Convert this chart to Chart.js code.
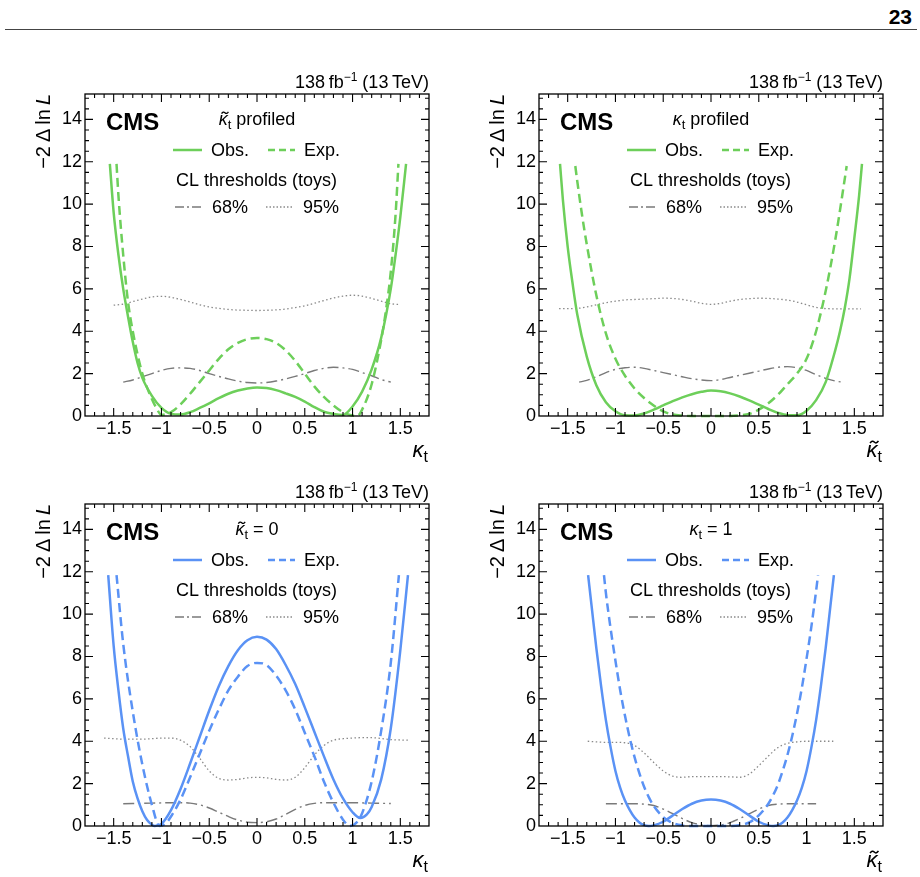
<!DOCTYPE html>
<html>
<head>
<meta charset="utf-8">
<script src="https://cdn.jsdelivr.net/npm/chart.js@4.4.1/dist/chart.umd.min.js"></script>
<style>
  html, body { margin: 0; padding: 0; background: #fff; }
  #page { position: relative; width: 920px; height: 877px; overflow: hidden; font-family: 'Liberation Sans', Arial, sans-serif; }
  #pagenum { position: absolute; right: 8px; top: 5px; font-weight: bold; font-size: 21px; font-family: 'Liberation Sans Narrow', 'Liberation Sans', Arial, sans-serif; }
  #rule { position: absolute; left: 5px; width: 912px; top: 29px; border-top: 1.5px solid #444; }
  canvas { position: absolute; }
</style>
</head>
<body>
<div id="page">
  <div id="pagenum">23</div>
  <div id="rule"></div>
  <canvas id="c1" width="460" height="420" style="left:0;top:50px"></canvas>
  <canvas id="c2" width="460" height="420" style="left:454px;top:50px"></canvas>
  <canvas id="c3" width="460" height="420" style="left:0;top:460px"></canvas>
  <canvas id="c4" width="460" height="420" style="left:454px;top:460px"></canvas>
</div>
<script>
const FONT = "'Liberation Sans', Arial, Helvetica, sans-serif";

const xTickValues = [-1.5, -1, -0.5, 0, 0.5, 1, 1.5];
const yTickValues = [0, 2, 4, 6, 8, 10, 12, 14];

// top left: kappa_t scan, kappa~_t profiled
const aObsX = [-1.54,-1.5,-1.45,-1.4,-1.35,-1.3,-1.25,-1.2,-1.1,-1.0,-0.9,-0.8,-0.7,-0.6,-0.5,-0.4,-0.3,-0.2,-0.1,0,0.1,0.2,0.3,0.4,0.5,0.6,0.7,0.8,0.9,1.0,1.1,1.2,1.3,1.4,1.45,1.5,1.56];
const aObsY = [11.9,9.6,7.6,6.0,4.7,3.5,2.5,1.8,0.95,0.38,0.1,0.07,0.18,0.38,0.6,0.84,1.05,1.2,1.3,1.35,1.32,1.22,1.07,0.9,0.68,0.42,0.2,0.1,0.05,0.45,1.15,2.2,3.7,6.0,7.6,9.4,11.9];
const aExpX = [-1.47,-1.45,-1.4,-1.35,-1.3,-1.2,-1.1,-1.05,-1.0,-0.9,-0.8,-0.7,-0.6,-0.5,-0.4,-0.3,-0.2,-0.1,0,0.1,0.2,0.3,0.4,0.5,0.6,0.7,0.8,0.9,1.0,1.05,1.1,1.2,1.3,1.35,1.4,1.45,1.48];
const aExpY = [11.9,10.4,7.6,5.4,4.0,2.0,0.8,0.35,0.05,0.18,0.55,1.05,1.6,2.15,2.7,3.15,3.45,3.63,3.68,3.63,3.45,3.1,2.6,2.0,1.4,0.9,0.5,0.18,0.02,0.0,0.3,1.5,3.6,5.0,6.8,9.5,11.9];
const a68X = [-1.4,-1.3,-1.2,-1.1,-1.0,-0.9,-0.8,-0.7,-0.6,-0.5,-0.4,-0.3,-0.2,-0.1,0,0.1,0.2,0.3,0.4,0.5,0.6,0.7,0.8,0.9,1.0,1.1,1.2,1.3,1.4];
const a68Y = [1.6,1.7,1.85,2.0,2.15,2.25,2.27,2.25,2.15,2.0,1.87,1.75,1.65,1.58,1.56,1.58,1.65,1.75,1.87,2.0,2.15,2.25,2.3,2.27,2.2,2.05,1.9,1.72,1.6];
const a95X = [-1.5,-1.4,-1.3,-1.2,-1.1,-1.0,-0.9,-0.8,-0.7,-0.6,-0.5,-0.4,-0.3,-0.2,-0.1,0,0.1,0.2,0.3,0.4,0.5,0.6,0.7,0.8,0.9,1.0,1.1,1.2,1.3,1.4,1.5];
const a95Y = [5.23,5.28,5.4,5.52,5.62,5.65,5.6,5.5,5.38,5.25,5.15,5.08,5.03,5.0,4.99,4.98,4.99,5.01,5.05,5.12,5.2,5.32,5.45,5.57,5.66,5.7,5.66,5.55,5.42,5.3,5.26];

// top right: kappa~_t scan, kappa_t profiled
const bObsX = [-1.58,-1.55,-1.5,-1.45,-1.4,-1.3,-1.2,-1.1,-1.0,-0.9,-0.8,-0.7,-0.6,-0.5,-0.4,-0.3,-0.2,-0.1,0,0.1,0.2,0.3,0.4,0.5,0.6,0.7,0.8,0.9,1.0,1.1,1.2,1.3,1.35,1.4,1.45,1.5,1.55,1.58];
const bObsY = [11.9,10.2,8.0,6.3,4.8,2.8,1.45,0.65,0.22,0.03,0.02,0.12,0.3,0.5,0.7,0.88,1.03,1.14,1.2,1.17,1.07,0.92,0.74,0.54,0.33,0.15,0.04,0.03,0.25,0.75,1.6,3.1,4.0,5.1,6.5,8.4,10.4,11.9];
const bExpX = [-1.42,-1.4,-1.35,-1.3,-1.2,-1.1,-1.0,-0.9,-0.8,-0.7,-0.6,-0.5,-0.4,-0.3,-0.2,-0.1,0,0.1,0.2,0.3,0.4,0.5,0.6,0.7,0.8,0.9,1.0,1.1,1.2,1.3,1.4,1.42];
const bExpY = [11.8,11.1,9.5,8.1,5.7,3.9,2.7,1.9,1.3,0.85,0.5,0.22,0.07,0.02,0.0,0.0,0.0,0.0,0.0,0.03,0.1,0.3,0.6,1.0,1.5,2.0,2.7,4.0,5.9,8.3,11.2,11.8];
const b68X = [-1.38,-1.3,-1.2,-1.1,-1.0,-0.9,-0.8,-0.7,-0.6,-0.5,-0.4,-0.3,-0.2,-0.1,0,0.1,0.2,0.3,0.4,0.5,0.6,0.7,0.8,0.9,1.0,1.1,1.2,1.3,1.38];
const b68Y = [1.6,1.68,1.85,2.05,2.2,2.28,2.3,2.25,2.15,2.05,1.95,1.85,1.76,1.7,1.67,1.72,1.82,1.92,2.02,2.12,2.22,2.3,2.33,2.28,2.15,1.95,1.78,1.65,1.6];
const b95X = [-1.59,-1.5,-1.4,-1.3,-1.2,-1.1,-1.0,-0.9,-0.8,-0.7,-0.6,-0.5,-0.4,-0.3,-0.2,-0.1,0,0.1,0.2,0.3,0.4,0.5,0.6,0.7,0.8,0.9,1.0,1.1,1.2,1.3,1.4,1.5,1.57];
const b95Y = [5.07,5.07,5.08,5.15,5.25,5.35,5.42,5.48,5.5,5.52,5.54,5.56,5.55,5.5,5.42,5.32,5.27,5.32,5.42,5.5,5.54,5.56,5.55,5.52,5.47,5.38,5.25,5.13,5.07,5.06,5.06,5.06,5.06];

// bottom left: kappa_t scan, kappa~_t = 0
const cObsX = [-1.557,-1.5,-1.45,-1.4,-1.35,-1.3,-1.25,-1.2,-1.15,-1.1,-1.07,-1.0,-0.9,-0.8,-0.7,-0.6,-0.5,-0.4,-0.3,-0.2,-0.1,0,0.1,0.2,0.3,0.4,0.5,0.6,0.7,0.8,0.9,1.0,1.08,1.15,1.2,1.3,1.4,1.5,1.58];
const cObsY = [11.84,8.5,6.4,4.6,3.3,2.1,1.3,0.7,0.28,0.06,0.0,0.1,0.75,1.75,2.95,4.2,5.45,6.6,7.55,8.3,8.77,8.93,8.8,8.35,7.6,6.7,5.6,4.45,3.3,2.2,1.3,0.65,0.38,0.55,0.9,2.2,4.6,8.3,11.84];
const cExpX = [-1.47,-1.4,-1.3,-1.2,-1.1,-1.02,-0.95,-0.9,-0.8,-0.7,-0.6,-0.5,-0.4,-0.3,-0.2,-0.1,0,0.1,0.2,0.3,0.4,0.5,0.6,0.7,0.8,0.9,0.97,1.05,1.1,1.2,1.3,1.4,1.485];
const cExpY = [11.84,8.6,5.4,2.9,1.0,0.0,0.15,0.45,1.25,2.3,3.4,4.5,5.5,6.4,7.05,7.55,7.7,7.6,7.1,6.4,5.5,4.4,3.3,2.1,1.1,0.3,0.0,0.2,0.6,2.1,4.5,7.7,11.84];
const c68X = [-1.4,-1.3,-1.2,-1.1,-1.0,-0.9,-0.8,-0.7,-0.6,-0.5,-0.4,-0.3,-0.2,-0.1,0,0.1,0.2,0.3,0.4,0.5,0.6,0.7,0.8,0.9,1.0,1.1,1.2,1.3,1.4];
const c68Y = [1.05,1.06,1.07,1.08,1.09,1.1,1.1,1.08,1.0,0.85,0.65,0.45,0.28,0.18,0.16,0.2,0.33,0.55,0.78,0.97,1.07,1.1,1.1,1.1,1.1,1.09,1.08,1.07,1.06];
const c95X = [-1.6,-1.5,-1.4,-1.3,-1.2,-1.1,-1.0,-0.9,-0.8,-0.7,-0.6,-0.5,-0.4,-0.3,-0.2,-0.1,0,0.1,0.2,0.3,0.4,0.5,0.6,0.7,0.8,0.9,1.0,1.1,1.2,1.3,1.4,1.5,1.58];
const c95Y = [4.15,4.12,4.1,4.1,4.1,4.12,4.15,4.15,4.05,3.75,3.2,2.6,2.25,2.17,2.2,2.27,2.3,2.27,2.2,2.17,2.3,2.75,3.35,3.8,4.05,4.12,4.15,4.17,4.17,4.13,4.08,4.06,4.05];

// bottom right: kappa~_t scan, kappa_t = 1
const dObsX = [-1.286,-1.25,-1.2,-1.15,-1.1,-1.05,-1.0,-0.95,-0.9,-0.85,-0.8,-0.75,-0.7,-0.65,-0.6,-0.5,-0.4,-0.3,-0.2,-0.1,0,0.1,0.2,0.3,0.4,0.5,0.6,0.65,0.7,0.75,0.8,0.85,0.9,0.95,1.0,1.05,1.1,1.15,1.2,1.25,1.286];
const dObsY = [11.84,10.4,8.4,6.6,5.0,3.7,2.6,1.8,1.2,0.75,0.4,0.17,0.04,0.0,0.03,0.2,0.5,0.8,1.05,1.2,1.25,1.2,1.05,0.8,0.5,0.2,0.03,0.0,0.04,0.17,0.4,0.75,1.2,1.8,2.6,3.7,5.0,6.6,8.4,10.4,11.84];
const dExpX = [-1.12,-1.1,-1.05,-1.0,-0.95,-0.9,-0.85,-0.8,-0.75,-0.7,-0.65,-0.6,-0.5,-0.4,-0.3,-0.2,-0.1,0,0.1,0.2,0.3,0.4,0.5,0.6,0.65,0.7,0.75,0.8,0.85,0.9,0.95,1.0,1.05,1.1,1.12];
const dExpY = [11.84,11.0,9.3,7.8,6.4,5.2,4.15,3.25,2.5,1.85,1.35,0.95,0.42,0.14,0.03,0.0,0.0,0.0,0.0,0.0,0.04,0.17,0.5,1.05,1.45,1.95,2.6,3.35,4.25,5.3,6.5,7.9,9.4,11.1,11.84];
const d68X = [-1.1,-1.0,-0.9,-0.8,-0.7,-0.6,-0.5,-0.4,-0.3,-0.2,-0.1,0,0.1,0.2,0.3,0.4,0.5,0.6,0.7,0.8,0.9,1.0,1.1];
const d68Y = [1.05,1.05,1.05,1.05,1.03,0.97,0.8,0.58,0.35,0.16,0.05,0.02,0.05,0.16,0.35,0.58,0.8,0.97,1.03,1.05,1.05,1.05,1.05];
const d95X = [-1.29,-1.2,-1.1,-1.0,-0.9,-0.8,-0.7,-0.6,-0.5,-0.4,-0.3,-0.2,-0.1,0,0.1,0.2,0.3,0.4,0.5,0.6,0.7,0.8,0.9,1.0,1.1,1.2,1.28];
const d95Y = [4.0,3.97,3.95,3.95,3.93,3.8,3.45,3.0,2.6,2.35,2.3,2.33,2.33,2.33,2.33,2.32,2.3,2.45,2.85,3.3,3.7,3.9,3.97,4.0,4.0,4.0,4.0];

const GREEN = '#6dcf5a';
const BLUE = '#5a92f5';

function pts(xs, ys) { return xs.map((x, i) => ({ x: x, y: ys[i] })); }

function tickText(v) {
  if (v === 0) return '0';
  return (v < 0 ? '\u2212' : '') + Math.abs(v);
}

function kappa(size, tilde) {
  return [
    { t: '\u03ba', font: 'italic ' + size + 'px ' + FONT, size: size, tilde: tilde },
    { t: 't', font: Math.round(size * 0.72) + 'px ' + FONT, dy: size * 0.24 }
  ];
}

function drawTilde(ctx, cx, cy, w, a, lw) {
  ctx.save();
  ctx.lineWidth = lw;
  ctx.strokeStyle = '#000';
  ctx.beginPath();
  ctx.moveTo(cx - w / 2, cy + a);
  ctx.quadraticCurveTo(cx - w / 4, cy - 2 * a, cx, cy);
  ctx.quadraticCurveTo(cx + w / 4, cy + 2 * a, cx + w / 2, cy - a);
  ctx.stroke();
  ctx.restore();
}

function drawRuns(ctx, runs, x, y, align) {
  let w = 0;
  for (const r of runs) { ctx.font = r.font; w += ctx.measureText(r.t).width; }
  let cx = align === 'right' ? x - w : align === 'center' ? x - w / 2 : x;
  ctx.textAlign = 'left';
  ctx.textBaseline = 'alphabetic';
  for (const r of runs) {
    ctx.font = r.font;
    ctx.fillText(r.t, cx, y + (r.dy || 0));
    const rw = ctx.measureText(r.t).width;
    if (r.tilde) drawTilde(ctx, cx + rw / 2 + r.size * 0.1, y - r.size * 0.68, r.size * 0.38, r.size * 0.05, r.size * 0.07);
    cx += rw;
  }
}

function sample(ctx, x0, x1, y, style) {
  ctx.save();
  ctx.strokeStyle = style.color;
  ctx.lineWidth = style.width;
  ctx.setLineDash(style.dash || []);
  ctx.beginPath();
  ctx.moveTo(x0, y);
  ctx.lineTo(x1, y);
  ctx.stroke();
  ctx.restore();
}

function decor(p) {
  return {
    id: 'decor',
    afterDatasetsDraw(chart) {
      const ctx = chart.ctx;
      const a = chart.chartArea;
      const xs = chart.scales.x, ys = chart.scales.y;
      ctx.save();
      // frame with inner ticks on all sides
      ctx.strokeStyle = '#000';
      ctx.lineWidth = 1.3;
      ctx.setLineDash([]);
      ctx.strokeRect(a.left, a.top, a.right - a.left, a.bottom - a.top);
      ctx.lineWidth = 1.1;
      ctx.beginPath();
      for (let i = -17; i <= 17; i++) {
        const px = xs.getPixelForValue(i / 10);
        const len = i % 5 === 0 ? 8 : 4;
        ctx.moveTo(px, a.bottom); ctx.lineTo(px, a.bottom - len);
        ctx.moveTo(px, a.top); ctx.lineTo(px, a.top + len);
      }
      for (let i = 1; i <= 30; i++) {
        const py = ys.getPixelForValue(i * 0.5);
        const len = i % 4 === 0 ? 8 : 4;
        ctx.moveTo(a.left, py); ctx.lineTo(a.left + len, py);
        ctx.moveTo(a.right, py); ctx.lineTo(a.right - len, py);
      }
      ctx.stroke();

      ctx.fillStyle = '#000';
      // lumi label
      drawRuns(ctx, [
        { t: '138\u2009fb', font: '18px ' + FONT },
        { t: '\u22121', font: '12px ' + FONT, dy: -7 },
        { t: ' (13\u2009TeV)', font: '18px ' + FONT }
      ], a.right, a.top - 6, 'right');

      // y axis title
      ctx.save();
      ctx.translate(a.left - 35, a.top);
      ctx.rotate(-Math.PI / 2);
      drawRuns(ctx, [
        { t: '\u22122\u2009\u0394\u2009ln\u2009', font: '20px ' + FONT },
        { t: 'L', font: 'italic 20px ' + FONT }
      ], 0, 0, 'right');
      ctx.restore();

      // x axis title
      drawRuns(ctx, kappa(22, p.xTilde), a.right - 1, a.bottom + 41, 'right');

      // CMS label
      ctx.font = 'bold 24px ' + FONT;
      ctx.textAlign = 'left';
      ctx.fillText('CMS', a.left + 21, a.top + 36);

      // header
      drawRuns(ctx, kappa(18, p.hTilde).concat([{ t: p.header, font: '18px ' + FONT }]),
        (a.left + a.right) / 2, a.top + 31, 'center');

      // legend
      sample(ctx, a.left + 88, a.left + 117, a.top + 56, { color: p.color, width: 2.5 });
      drawRuns(ctx, [{ t: 'Obs.', font: '18px ' + FONT }], a.left + 126, a.top + 62, 'left');
      sample(ctx, a.left + 183, a.left + 210, a.top + 56, { color: p.color, width: 2.5, dash: [7, 4] });
      drawRuns(ctx, [{ t: 'Exp.', font: '18px ' + FONT }], a.left + 219, a.top + 62, 'left');
      drawRuns(ctx, [{ t: 'CL thresholds (toys)', font: '18px ' + FONT }], a.left + 91, a.top + 92, 'left');
      sample(ctx, a.left + 90, a.left + 117, a.top + 113, { color: '#7a7a7a', width: 1.4, dash: [9, 3, 2, 3] });
      drawRuns(ctx, [{ t: '68%', font: '18px ' + FONT }], a.left + 127, a.top + 119, 'left');
      sample(ctx, a.left + 181, a.left + 208, a.top + 113, { color: '#8a8a8a', width: 1.3, dash: [1.5, 2] });
      drawRuns(ctx, [{ t: '95%', font: '18px ' + FONT }], a.left + 218, a.top + 119, 'left');
      ctx.restore();
    }
  };
}

function makePanel(id, p) {
  const line = (xs, ys, color, width, dash) => ({
    data: pts(xs, ys),
    borderColor: color,
    borderWidth: width,
    borderDash: dash,
    pointRadius: 0,
    fill: false,
    cubicInterpolationMode: 'monotone',
    clip: 4
  });
  new Chart(document.getElementById(id), {
    type: 'line',
    data: {
      datasets: [
        line(p.obsX, p.obsY, p.color, 2.5, []),
        line(p.expX, p.expY, p.color, 2.5, [9, 5]),
        line(p.x68, p.y68, '#7a7a7a', 1.4, [11, 4, 2, 4]),
        line(p.x95, p.y95, '#8a8a8a', 1.3, [1.5, 2.5])
      ]
    },
    options: {
      responsive: false,
      animation: false,
      devicePixelRatio: 1,
      layout: { padding: { left: 0, top: 44, right: 31, bottom: 0 } },
      plugins: { legend: { display: false }, tooltip: { enabled: false } },
      scales: {
        x: {
          type: 'linear', min: -1.8, max: 1.8,
          grid: { display: false, drawTicks: false },
          border: { display: false },
          afterBuildTicks: s => { s.ticks = xTickValues.map(v => ({ value: v })); },
          afterFit: s => { s.height = 54; },
          ticks: { font: { family: FONT, size: 18 }, color: '#000', padding: 2, maxRotation: 0, autoSkip: false, callback: tickText }
        },
        y: {
          type: 'linear', min: 0, max: 15.2,
          grid: { display: false, drawTicks: false },
          border: { display: false },
          afterBuildTicks: s => { s.ticks = yTickValues.map(v => ({ value: v })); },
          afterFit: s => { s.width = 85; },
          ticks: { font: { family: FONT, size: 18 }, color: '#000', padding: 3, autoSkip: false, callback: tickText }
        }
      }
    },
    plugins: [decor(p)]
  });
}

makePanel('c1', { obsX: aObsX, obsY: aObsY, expX: aExpX, expY: aExpY, x68: a68X, y68: a68Y, x95: a95X, y95: a95Y,
  color: GREEN, hTilde: true, header: ' profiled', xTilde: false });
makePanel('c2', { obsX: bObsX, obsY: bObsY, expX: bExpX, expY: bExpY, x68: b68X, y68: b68Y, x95: b95X, y95: b95Y,
  color: GREEN, hTilde: false, header: ' profiled', xTilde: true });
makePanel('c3', { obsX: cObsX, obsY: cObsY, expX: cExpX, expY: cExpY, x68: c68X, y68: c68Y, x95: c95X, y95: c95Y,
  color: BLUE, hTilde: true, header: ' = 0', xTilde: false });
makePanel('c4', { obsX: dObsX, obsY: dObsY, expX: dExpX, expY: dExpY, x68: d68X, y68: d68Y, x95: d95X, y95: d95Y,
  color: BLUE, hTilde: false, header: ' = 1', xTilde: true });
</script>
</body>
</html>
